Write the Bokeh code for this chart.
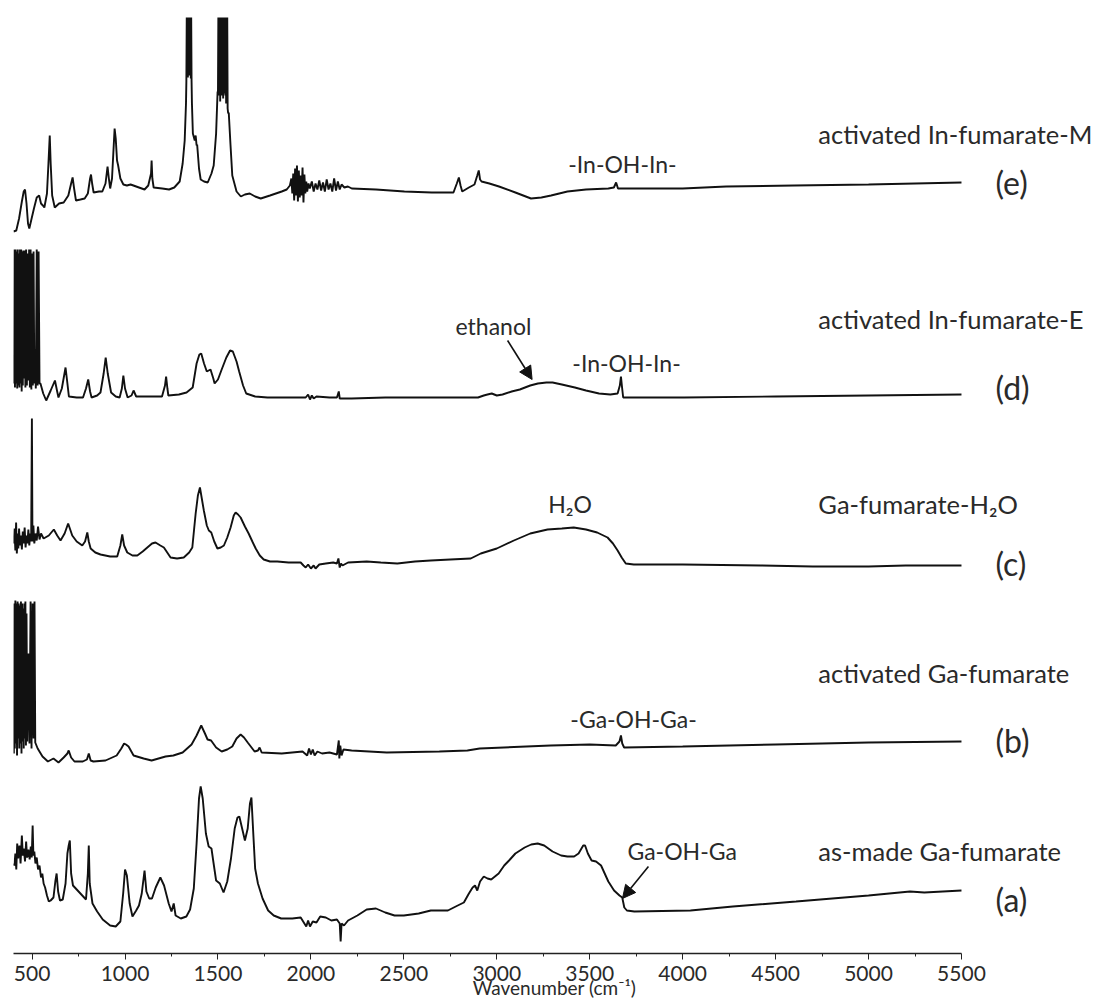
from bokeh.plotting import figure
from bokeh.models import Range1d, FixedTicker, Arrow, NormalHead
from bokeh.core.properties import value
from bokeh.embed import file_html
from bokeh.resources import INLINE

# ---- data: (wavenumber cm-1, stacked absorbance a.u.) ----
spec_a = [(400, 90), (405, 88), (410, 100), (415, 84), (420, 110), (425, 95), (432, 108), (438, 90),
          (445, 118), (450, 98), (455, 105), (462, 92), (468, 112), (473, 96), (480, 104), (487, 94),
          (493, 107), (498, 96), (503, 128), (507, 98), (512, 102), (518, 90), (525, 96), (532, 84),
          (540, 88), (548, 76), (555, 80), (562, 70), (570, 66), (580, 58), (590, 52), (600, 53),
          (615, 56), (625, 72), (632, 80), (640, 62), (650, 53), (665, 54), (680, 70), (690, 100),
          (697, 108), (703, 113), (710, 80), (720, 68), (740, 64), (770, 58), (790, 54), (800, 80),
          (805, 108), (810, 70), (825, 50), (850, 42), (880, 34), (920, 28), (950, 27), (975, 32),
          (990, 60), (1000, 84), (1010, 78), (1025, 50), (1040, 37), (1060, 43), (1075, 48), (1090, 60),
          (1105, 83), (1115, 62), (1130, 55), (1145, 55), (1165, 66), (1190, 76), (1210, 68), (1235, 50),
          (1250, 42), (1262, 50), (1272, 38), (1300, 35), (1330, 37), (1350, 44), (1370, 65), (1385, 110),
          (1398, 155), (1407, 167), (1418, 155), (1435, 120), (1450, 107), (1465, 105), (1475, 92),
          (1490, 73), (1510, 70), (1530, 61), (1550, 72), (1570, 95), (1590, 125), (1605, 136),
          (1615, 137), (1630, 125), (1645, 113), (1660, 125), (1672, 150), (1680, 156), (1690, 120),
          (1700, 85), (1715, 70), (1740, 55), (1770, 43), (1800, 38), (1840, 35), (1900, 35), (1945, 36),
          (1965, 30), (1975, 27), (1985, 33), (1995, 27), (2010, 32), (2030, 31), (2050, 37), (2080, 36),
          (2110, 33), (2140, 34), (2155, 30), (2160, 12), (2165, 30), (2178, 28), (2200, 33), (2250, 38),
          (2300, 44), (2350, 45), (2400, 41), (2450, 38), (2500, 38), (2580, 40), (2645, 43), (2737, 43),
          (2790, 48), (2823, 51), (2850, 60), (2870, 66), (2883, 68), (2895, 63), (2910, 72), (2930, 77),
          (2950, 75), (2970, 74), (3010, 80), (3040, 88), (3066, 93), (3100, 100), (3150, 106), (3185, 109),
          (3220, 110), (3255, 108), (3300, 102), (3346, 98), (3380, 97), (3416, 97), (3440, 100),
          (3465, 108), (3475, 108), (3490, 100), (3510, 93), (3534, 92), (3561, 88), (3600, 72),
          (3631, 63), (3660, 58), (3675, 56), (3686, 46), (3700, 43), (3740, 42), (4042, 43), (4270, 47),
          (4610, 52), (5000, 58), (5223, 62), (5300, 61), (5500, 63)]

spec_b = [(402, 200), (404, 350), (407, 205), (410, 353), (413, 210), (416, 350), (419, 198), (422, 352),
          (425, 215), (428, 350), (431, 205), (434, 348), (437, 210), (440, 352), (443, 200), (446, 350),
          (449, 212), (452, 345), (455, 205), (458, 350), (461, 215), (464, 352), (467, 208), (470, 340),
          (474, 212), (480, 300), (486, 210), (492, 352), (497, 205), (503, 350), (508, 215), (513, 352),
          (517, 211), (530, 205), (556, 197), (585, 192), (615, 195), (642, 191), (670, 196), (690, 200),
          (697, 203), (710, 196), (728, 192), (773, 192), (795, 194), (805, 200), (815, 193), (830, 192),
          (895, 193), (955, 198), (980, 205), (995, 210), (1005, 209), (1019, 207), (1046, 198),
          (1100, 195), (1143, 193), (1218, 197), (1260, 198), (1310, 201), (1358, 209), (1385, 218),
          (1410, 228), (1430, 220), (1444, 214), (1463, 213), (1490, 206), (1520, 202), (1550, 204),
          (1577, 207), (1600, 215), (1622, 219), (1640, 216), (1660, 211), (1697, 202), (1715, 203),
          (1724, 206), (1735, 201), (1843, 200), (1955, 202), (1980, 198), (1990, 205), (2000, 199),
          (2010, 204), (2020, 198), (2035, 202), (2060, 200), (2100, 201), (2140, 199), (2150, 213),
          (2153, 195), (2158, 208), (2165, 198), (2175, 204), (2219, 203), (2408, 201), (2691, 202),
          (2842, 203), (2908, 205), (3290, 208), (3500, 209), (3640, 208), (3660, 212), (3668, 218),
          (3675, 210), (3685, 206), (4000, 207), (4500, 209), (5000, 211), (5500, 212)]

spec_c = [(400, 410), (405, 425), (410, 403), (414, 431), (418, 400), (422, 420), (426, 405), (430, 425),
          (435, 408), (440, 418), (445, 404), (450, 422), (455, 410), (460, 426), (465, 406), (470, 418),
          (475, 410), (480, 424), (485, 408), (490, 420), (495, 412), (499, 535), (502, 412), (507, 428),
          (512, 410), (518, 420), (525, 413), (532, 427), (540, 414), (548, 420), (562, 415), (590, 418),
          (617, 424), (635, 418), (653, 413), (675, 420), (694, 430), (705, 424), (716, 418), (740, 412),
          (770, 408), (785, 412), (797, 421), (805, 412), (815, 405), (840, 401), (868, 399), (920, 397),
          (958, 397), (975, 408), (985, 419), (995, 408), (1012, 401), (1040, 398), (1066, 398),
          (1095, 402), (1120, 406), (1145, 410), (1164, 411), (1190, 408), (1209, 406), (1227, 401),
          (1245, 396), (1280, 395), (1316, 396), (1345, 401), (1362, 406), (1372, 425), (1380, 440),
          (1392, 458), (1403, 466), (1413, 455), (1424, 443), (1440, 428), (1451, 423), (1464, 421),
          (1480, 412), (1497, 405), (1515, 406), (1532, 408), (1550, 416), (1568, 426), (1585, 438),
          (1595, 441), (1608, 439), (1622, 436), (1645, 427), (1665, 420), (1685, 412), (1703, 405),
          (1725, 398), (1746, 394), (1780, 392), (1819, 392), (1880, 391), (1945, 391), (1960, 388),
          (1972, 386), (1985, 389), (2000, 385), (2015, 388), (2025, 385), (2045, 389), (2080, 390),
          (2120, 391), (2140, 390), (2148, 395), (2155, 386), (2162, 390), (2170, 388), (2200, 391),
          (2300, 392), (2376, 391), (2465, 390), (2560, 392), (2645, 393), (2750, 394), (2860, 395),
          (2914, 400), (3000, 405), (3092, 413), (3180, 420), (3273, 424), (3350, 425), (3414, 426),
          (3480, 424), (3540, 421), (3596, 416), (3625, 410), (3650, 403), (3672, 396), (3694, 390),
          (3737, 389), (4000, 389), (4421, 388), (4700, 387), (5000, 387), (5200, 388), (5500, 388)]

spec_d = [(402, 570), (405, 704), (408, 566), (411, 704), (414, 570), (417, 702), (420, 565), (423, 704),
          (426, 568), (429, 700), (432, 566), (435, 704), (438, 570), (441, 704), (444, 562), (447, 702),
          (450, 568), (453, 703), (456, 575), (460, 703), (464, 566), (468, 704), (472, 568), (476, 700),
          (480, 573), (484, 704), (488, 566), (492, 704), (496, 564), (500, 700), (504, 568), (508, 702),
          (512, 570), (516, 604), (520, 565), (525, 704), (530, 568), (535, 702), (540, 570), (545, 570),
          (560, 560), (576, 553), (600, 563), (623, 573), (635, 562), (642, 556), (660, 565), (680, 586),
          (690, 570), (698, 557), (740, 556), (774, 556), (790, 565), (802, 574), (812, 562), (820, 556),
          (850, 558), (868, 561), (885, 580), (896, 596), (907, 580), (925, 561), (950, 557), (971, 556),
          (983, 565), (991, 578), (1000, 565), (1014, 556), (1035, 558), (1046, 563), (1060, 557),
          (1076, 557), (1150, 557), (1199, 557), (1215, 568), (1221, 577), (1228, 565), (1233, 558),
          (1290, 559), (1331, 561), (1364, 566), (1385, 590), (1400, 599), (1410, 600), (1425, 590),
          (1440, 582), (1460, 584), (1475, 575), (1482, 570), (1500, 574), (1520, 584), (1545, 596),
          (1565, 603), (1580, 602), (1600, 592), (1614, 582), (1635, 568), (1652, 560), (1700, 557),
          (1766, 556), (1850, 556), (1950, 556), (1972, 556), (1985, 559), (1995, 554), (2005, 558),
          (2015, 555), (2030, 557), (2100, 556), (2140, 556), (2150, 562), (2155, 555), (2219, 555),
          (2400, 556), (2596, 556), (2800, 556), (2899, 556), (2930, 558), (2950, 559), (2973, 560),
          (3000, 558), (3031, 559), (3080, 562), (3124, 564), (3180, 568), (3221, 570), (3267, 571),
          (3300, 571), (3350, 569), (3420, 566), (3480, 563), (3550, 560), (3611, 559), (3650, 560),
          (3662, 568), (3668, 577), (3674, 566), (3680, 556), (3800, 556), (4008, 556), (4500, 557),
          (5000, 558), (5500, 559)]

spec_e = [(400, 722), (415, 723), (430, 735), (445, 752), (455, 762), (462, 764), (470, 750), (478, 730),
          (485, 725), (495, 733), (510, 745), (525, 756), (538, 758), (548, 750), (558, 748), (566, 746),
          (580, 760), (588, 790), (595, 818), (600, 790), (608, 758), (622, 746), (645, 750), (670, 751),
          (695, 758), (710, 770), (718, 776), (726, 765), (736, 753), (760, 754), (783, 755), (800, 760),
          (812, 775), (817, 779), (823, 770), (831, 761), (860, 762), (878, 762), (895, 770), (906, 787),
          (913, 775), (920, 765), (930, 775), (937, 800), (944, 825), (950, 815), (957, 793), (963, 788),
          (975, 775), (991, 769), (1010, 768), (1030, 769), (1060, 767), (1090, 765), (1105, 764),
          (1125, 768), (1140, 780), (1143, 793), (1147, 775), (1154, 766), (1200, 765), (1237, 764),
          (1265, 766), (1294, 772), (1310, 790), (1321, 813), (1328, 850), (1330, 872), (1332, 936),
          (1334, 880), (1336, 936), (1338, 876), (1340, 936), (1342, 885), (1344, 936), (1346, 878),
          (1348, 936), (1350, 882), (1352, 936), (1354, 875), (1356, 936), (1358, 872), (1360, 850),
          (1365, 820), (1375, 813), (1380, 818), (1385, 808), (1388, 809), (1398, 785), (1407, 774),
          (1425, 772), (1445, 771), (1465, 780), (1477, 788), (1490, 820), (1498, 862), (1500, 860),
          (1502, 936), (1504, 858), (1506, 936), (1508, 866), (1510, 936), (1512, 852), (1514, 936),
          (1516, 870), (1518, 936), (1520, 858), (1522, 936), (1524, 862), (1526, 936), (1528, 855),
          (1530, 936), (1532, 860), (1534, 936), (1536, 865), (1538, 936), (1540, 858), (1542, 936),
          (1544, 850), (1546, 936), (1548, 855), (1550, 936), (1552, 845), (1555, 840), (1558, 841),
          (1567, 810), (1577, 778), (1600, 762), (1623, 757), (1645, 759), (1671, 760), (1700, 757),
          (1730, 755), (1780, 758), (1843, 762), (1870, 764), (1887, 768), (1895, 775), (1900, 760),
          (1905, 780), (1910, 753), (1915, 785), (1920, 758), (1925, 788), (1930, 752), (1935, 783),
          (1940, 756), (1945, 778), (1950, 758), (1955, 786), (1960, 751), (1965, 779), (1970, 760),
          (1975, 772), (1980, 762), (1987, 770), (1994, 765), (2005, 772), (2015, 762), (2025, 770),
          (2035, 764), (2045, 773), (2055, 763), (2065, 771), (2075, 762), (2085, 774), (2095, 764),
          (2105, 770), (2115, 762), (2125, 775), (2135, 763), (2145, 772), (2155, 764), (2165, 769),
          (2180, 766), (2199, 767), (2220, 765), (2350, 764), (2503, 762), (2650, 761), (2767, 761),
          (2785, 770), (2796, 776), (2805, 768), (2814, 762), (2850, 766), (2880, 769), (2895, 778),
          (2903, 783), (2910, 774), (2918, 772), (2960, 770), (3012, 767), (3100, 761), (3184, 755),
          (3240, 756), (3292, 758), (3380, 762), (3480, 764), (3600, 765), (3630, 766), (3642, 771),
          (3652, 765), (4000, 765), (4234, 767), (4600, 768), (5000, 769), (5500, 771)]

spectra = [spec_a, spec_b, spec_c, spec_d, spec_e]

# sample names and panel letters (right side)
sample_names = ["as-made Ga-fumarate", "activated Ga-fumarate", "Ga-fumarate-H\u2082O",
                "activated In-fumarate-E", "activated In-fumarate-M"]
sample_name_y = [103, 281, 450, 635, 820]
panel_letters = ["(a)", "(b)", "(c)", "(d)", "(e)"]
panel_letter_y = [54, 213, 390, 566, 771]

# band assignments
band_texts = ["Ga-OH-Ga", "-Ga-OH-Ga-", "H\u2082O", "ethanol", "-In-OH-In-", "-In-OH-In-"]
band_x = [3703, 3736, 3394, 2982, 3698, 3676]
band_y = [103, 235, 450, 628, 591, 790]
band_align = ["left", "center", "center", "center", "center", "center"]

# arrows (x_start, y_start, x_end, y_end)
arrows = [(3816, 87, 3676, 55), (3058, 613, 3190, 574)]

x_ticks = list(range(500, 5501, 500))
x_minor = list(range(750, 5300, 500))
x_title = "Wavenumber (cm\u207b\u00b9)"

FONT = "Lato"
INK = "#111111"
TXT = "#2a2a2a"

p = figure(width=1095, height=1005, x_range=Range1d(400, 6221), y_range=Range1d(0, 953),
           y_axis_location=None, output_backend="svg", toolbar_location=None,
           min_border_left=13, min_border_right=0, min_border_top=0, min_border_bottom=52)
p.grid.visible = False
p.outline_line_color = None

for spec in spectra:
    xs = [w for w, _ in spec]
    ys = [a for _, a in spec]
    p.line(xs, ys, line_color=INK, line_width=1.9)

p.text(x=[4730] * len(sample_names), y=sample_name_y, text=sample_names,
       text_font=value(FONT), text_font_size="25.5px", text_color=TXT,
       text_align="left", text_baseline="middle")
p.text(x=[5683] * len(panel_letters), y=panel_letter_y, text=panel_letters,
       text_font=value(FONT), text_font_size="32px", text_color=TXT,
       text_align="left", text_baseline="middle")
p.text(x=band_x, y=band_y, text=band_texts, text_align=band_align,
       text_font=value(FONT), text_font_size="23px", text_color=TXT,
       text_baseline="middle")

for xs_, ys_, xe_, ye_ in arrows:
    p.add_layout(Arrow(end=NormalHead(size=13, fill_color=INK, line_color=INK),
                       x_start=xs_, y_start=ys_, x_end=xe_, y_end=ye_,
                       line_color=INK, line_width=1.6))

ax = p.xaxis[0]
ax.ticker = FixedTicker(ticks=x_ticks, minor_ticks=x_minor)
ax.bounds = (400, 5500)
ax.axis_line_color = "#222222"
ax.axis_line_width = 1.6
ax.major_tick_line_color = "#222222"
ax.minor_tick_line_color = "#222222"
ax.major_tick_out = 6
ax.major_tick_in = 0
ax.minor_tick_out = 3
ax.minor_tick_in = 0
ax.major_label_text_font = FONT
ax.major_label_text_font_size = "21px"
ax.major_label_text_color = TXT
ax.major_label_standoff = 6
ax.axis_label = x_title
ax.axis_label_text_font = FONT
ax.axis_label_text_font_size = "19px"
ax.axis_label_text_font_style = "normal"
ax.axis_label_text_color = TXT
ax.axis_label_standoff = -8

open("out.html", "w").write(file_html(p, INLINE))
